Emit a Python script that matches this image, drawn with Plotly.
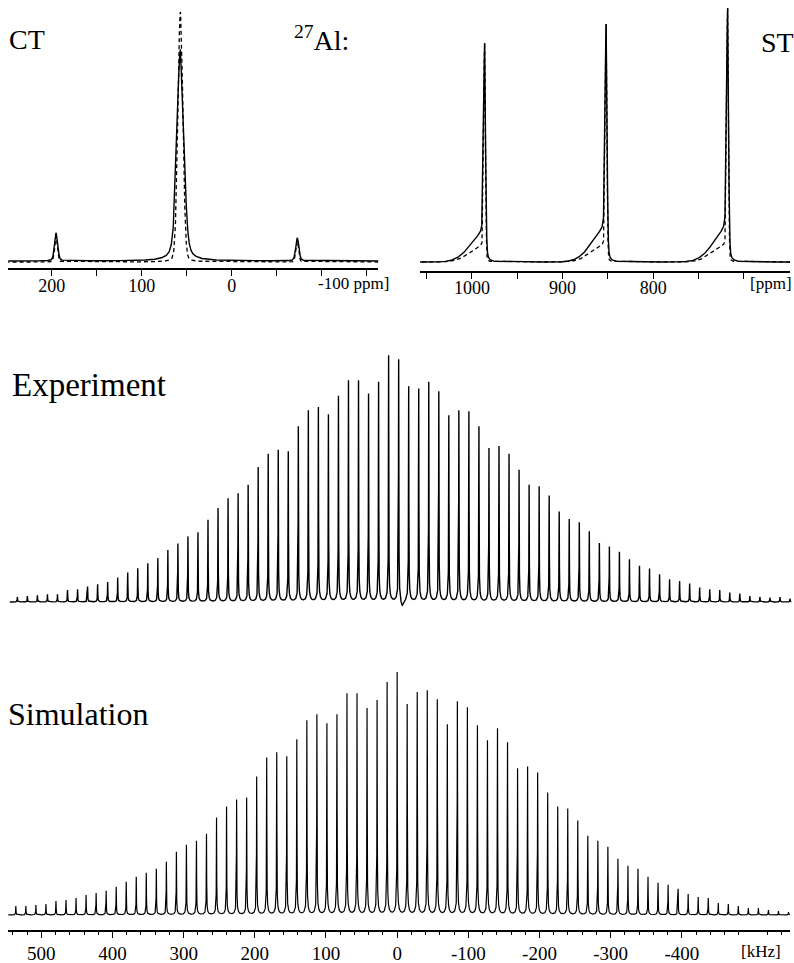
import numpy as np
import plotly.graph_objects as go

# ---------------- data ----------------
# 27Al central transition (CT) panel, ppm; intensities in a.u.
ct_pos_ppm = [195, 57, -73]
ct_exp_int = [28, 211, 23]
ct_sim_int = [26, 250, 21]

# satellite transition (ST) panel, ppm
st_pos_ppm = [986, 852, 718]
st_exp_int = [219, 238, 254]
st_sim_int = [219, 238, 254]
st_exp_shoulder = [28, 32, 32]
st_sim_shoulder = [16, 17, 17]

# MAS spinning-sideband manifold (kHz)
spin_rate_khz = 14.1
sideband_orders = list(range(38, -40, -1))   # +38 ... -39
exp_int = [15, 18, 20, 23, 23, 36, 38, 46, 53, 60, 73, 88, 101, 116, 131, 155, 175, 196,
           208, 246, 281, 310, 325, 350, 403, 443, 455, 450, 525, 573, 583, 561, 616, 663,
           663, 623, 658, 738,
           728,
           645, 638, 658, 630, 558, 573, 570, 525, 460, 466, 443, 395, 350, 346, 318, 270,
           248, 238, 211, 176, 166, 150, 128, 108, 100, 83, 68, 63, 55, 43, 38, 36, 28, 25,
           18, 15, 13, 15, 10]
sim_int = [9, 9, 10, 11, 14, 15, 17, 20, 22, 24, 28, 33, 38, 42, 46, 53, 63, 70, 74, 81,
           97, 108, 115, 117, 138, 157, 162, 158, 175, 194, 200, 191, 200, 221, 221, 206,
           214, 232,
           242,
           210, 222, 224, 215, 190, 213, 207, 189, 174, 186, 172, 146, 148, 142, 122, 108,
           106, 94, 79, 74, 68, 56, 49, 46, 38, 32, 30, 26, 21, 18, 17, 12, 11, 9, 7, 7, 5,
           4, 3]
exp_center_dip = -20

# tick labels
ct_tick_vals = [200, 100, 0]
ct_tick_text = ["200", "100", "0"]
st_tick_vals = [1000, 900, 800]
st_tick_text = ["1000", "900", "800"]
khz_tick_vals = [500, 400, 300, 200, 100, 0, -100, -200, -300, -400]
khz_tick_text = ["500", "400", "300", "200", "100", "0", "-100", "-200", "-300", "-400"]

# ---------------- line shapes ----------------
def pvoigt(x, x0, h, fwhm, eta):
    d = (x - x0) / fwhm
    return h * ((1 - eta) * np.exp(-4 * np.log(2) * d * d) + eta / (1 + 4 * d * d))

W, H = 794, 963
FONT = "Liberation Serif, Times New Roman, serif"

# CT spectrum
x_ct = np.arange(-163 * 20, 249 * 20 + 1) / 20.0
y_ct_exp = np.zeros_like(x_ct)
y_ct_sim = np.zeros_like(x_ct)
for i, (p, he, hs) in enumerate(zip(ct_pos_ppm, ct_exp_int, ct_sim_int)):
    main = (i == 1)
    y_ct_exp += pvoigt(x_ct, p, he, 9.0 if main else 4.0, 0.35)
    y_ct_sim += pvoigt(x_ct, p, hs, 6.5 if main else 3.5, 0.12)
y_ct_sim -= 1.0

# ST spectrum
x_st = np.arange(649 * 20, 1058 * 20 + 1) / 20.0
y_st_exp = np.zeros_like(x_st)
y_st_sim = np.zeros_like(x_st)
for p, he, hs, se, ss in zip(st_pos_ppm, st_exp_int, st_sim_int, st_exp_shoulder, st_sim_shoulder):
    y_st_exp += pvoigt(x_st, p, he - se, 2.5, 0.3)
    y_st_sim += pvoigt(x_st, p, hs - ss, 2.2, 0.1)
    side = x_st >= p
    y_st_exp += np.where(side, se * np.exp(-((x_st - p) / 22.0) ** 2), 0)
    y_st_sim += np.where(side, ss * np.exp(-((x_st - p) / 22.0) ** 2), 0)

# sideband manifolds
x_k = np.arange(-552 * 20, 547 * 20 + 1) / 20.0
y_exp = np.zeros_like(x_k)
y_sim = np.zeros_like(x_k)
for n, he, hs in zip(sideband_orders, exp_int, sim_int):
    c = n * spin_rate_khz
    y_exp += pvoigt(x_k, c, he * 0.95, 0.5, 1.0) + pvoigt(x_k, c, he * 0.05, 4.0, 1.0)
    y_sim += pvoigt(x_k, c, hs * 0.95, 0.5, 1.0) + pvoigt(x_k, c, hs * 0.05, 4.0, 1.0)
y_exp += pvoigt(x_k, -5.0, exp_center_dip, 5.0, 0.5)

# ---------------- figure ----------------
fig = go.Figure()
line_solid = dict(color="black", width=1.4)
line_dash = dict(color="black", width=1.3, dash="4px,3px")

fig.add_trace(go.Scatter(x=x_ct, y=y_ct_exp, mode="lines", line=line_solid, xaxis="x", yaxis="y"))
fig.add_trace(go.Scatter(x=x_ct, y=y_ct_sim, mode="lines", line=line_dash, xaxis="x", yaxis="y"))
fig.add_trace(go.Scatter(x=x_st, y=y_st_exp, mode="lines", line=line_solid, xaxis="x2", yaxis="y2"))
fig.add_trace(go.Scatter(x=x_st, y=y_st_sim, mode="lines", line=line_dash, xaxis="x2", yaxis="y2"))
fig.add_trace(go.Scatter(x=x_k, y=y_exp, mode="lines", line=dict(color="black", width=1.4),
                         xaxis="x3", yaxis="y3"))
fig.add_trace(go.Scatter(x=x_k, y=y_sim, mode="lines", line=dict(color="black", width=1.2),
                         xaxis="x4", yaxis="y4"))


def px_x(a, b):
    return [a / W, min(b / W, 1.0)]


def px_y(top, bottom):
    return [1 - bottom / H, 1 - top / H]


tickfont = dict(family=FONT, size=18, color="black")
axis_common = dict(showline=True, linecolor="black", linewidth=2, ticks="outside",
                   tickcolor="black", tickwidth=1.3, showgrid=False, zeroline=False,
                   tickfont=tickfont, tickmode="array", fixedrange=True)

minor_khz = [v for v in range(540, -541, -20) if v % 100 != 0]

fig.update_layout(
    width=W, height=H, margin=dict(l=0, r=0, t=0, b=0),
    paper_bgcolor="white", plot_bgcolor="white", showlegend=False,
    font=dict(family=FONT, color="black"),
    xaxis=dict(domain=px_x(8.3, 378.3), range=[248.2, -162.9], anchor="y",
               tickvals=ct_tick_vals, ticktext=ct_tick_text, ticklen=6,
               ticklabelstandoff=-6,
               minor=dict(tickvals=[150, 50, -50, -100, -150], ticklen=6, ticks="outside",
                          tickcolor="black", tickwidth=1.3),
               **axis_common),
    yaxis=dict(domain=px_y(5, 268), range=[-7, 256], visible=False, fixedrange=True),
    xaxis2=dict(domain=px_x(420, 790), range=[1057.3, 649.2], anchor="y2",
                tickvals=st_tick_vals, ticktext=st_tick_text, ticklen=6,
                ticklabelstandoff=-7,
                minor=dict(tickvals=[1050, 950, 850, 750, 700], ticklen=6, ticks="outside",
                           tickcolor="black", tickwidth=1.3),
                **axis_common),
    yaxis2=dict(domain=px_y(3, 271), range=[-9, 259], visible=False, fixedrange=True),
    xaxis3=dict(domain=px_x(9.8, 791.5), range=[546.4, -552], anchor="y3", visible=False,
                fixedrange=True),
    yaxis3=dict(domain=px_y(345, 615), range=[-39, 771], visible=False, fixedrange=True),
    xaxis4=dict(domain=px_x(8.3, 790), range=[546.4, -552], anchor="y4",
                tickvals=khz_tick_vals, ticktext=khz_tick_text, ticklen=6,
                minor=dict(tickvals=minor_khz, ticklen=3, ticks="outside",
                           tickcolor="black", tickwidth=1.2),
                **{**axis_common, "tickfont": dict(family=FONT, size=19, color="black")}),
    yaxis4=dict(domain=px_y(655, 929.5), range=[-14.5, 260], visible=False, fixedrange=True),
)


def ann(text, x, y, size, xanchor="left"):
    fig.add_annotation(text=text, x=x / W, y=1 - y / H, xref="paper", yref="paper",
                       xanchor=xanchor, yanchor="middle", showarrow=False,
                       font=dict(family=FONT, size=size, color="black"))


ann("CT", 7, 40, 28)
ann("<sup>27</sup>Al:", 351, 38, 28, "right")
ann("ST", 796, 42, 28, "right")
ann("Experiment", 10, 385, 33)
ann("Simulation", 6, 714, 32)
ann("-100 ppm]", 316, 284, 17)
ann("[ppm]", 794, 284, 17, "right")
ann("[kHz]", 783, 951, 17, "right")

fig.write_html("out.html")
